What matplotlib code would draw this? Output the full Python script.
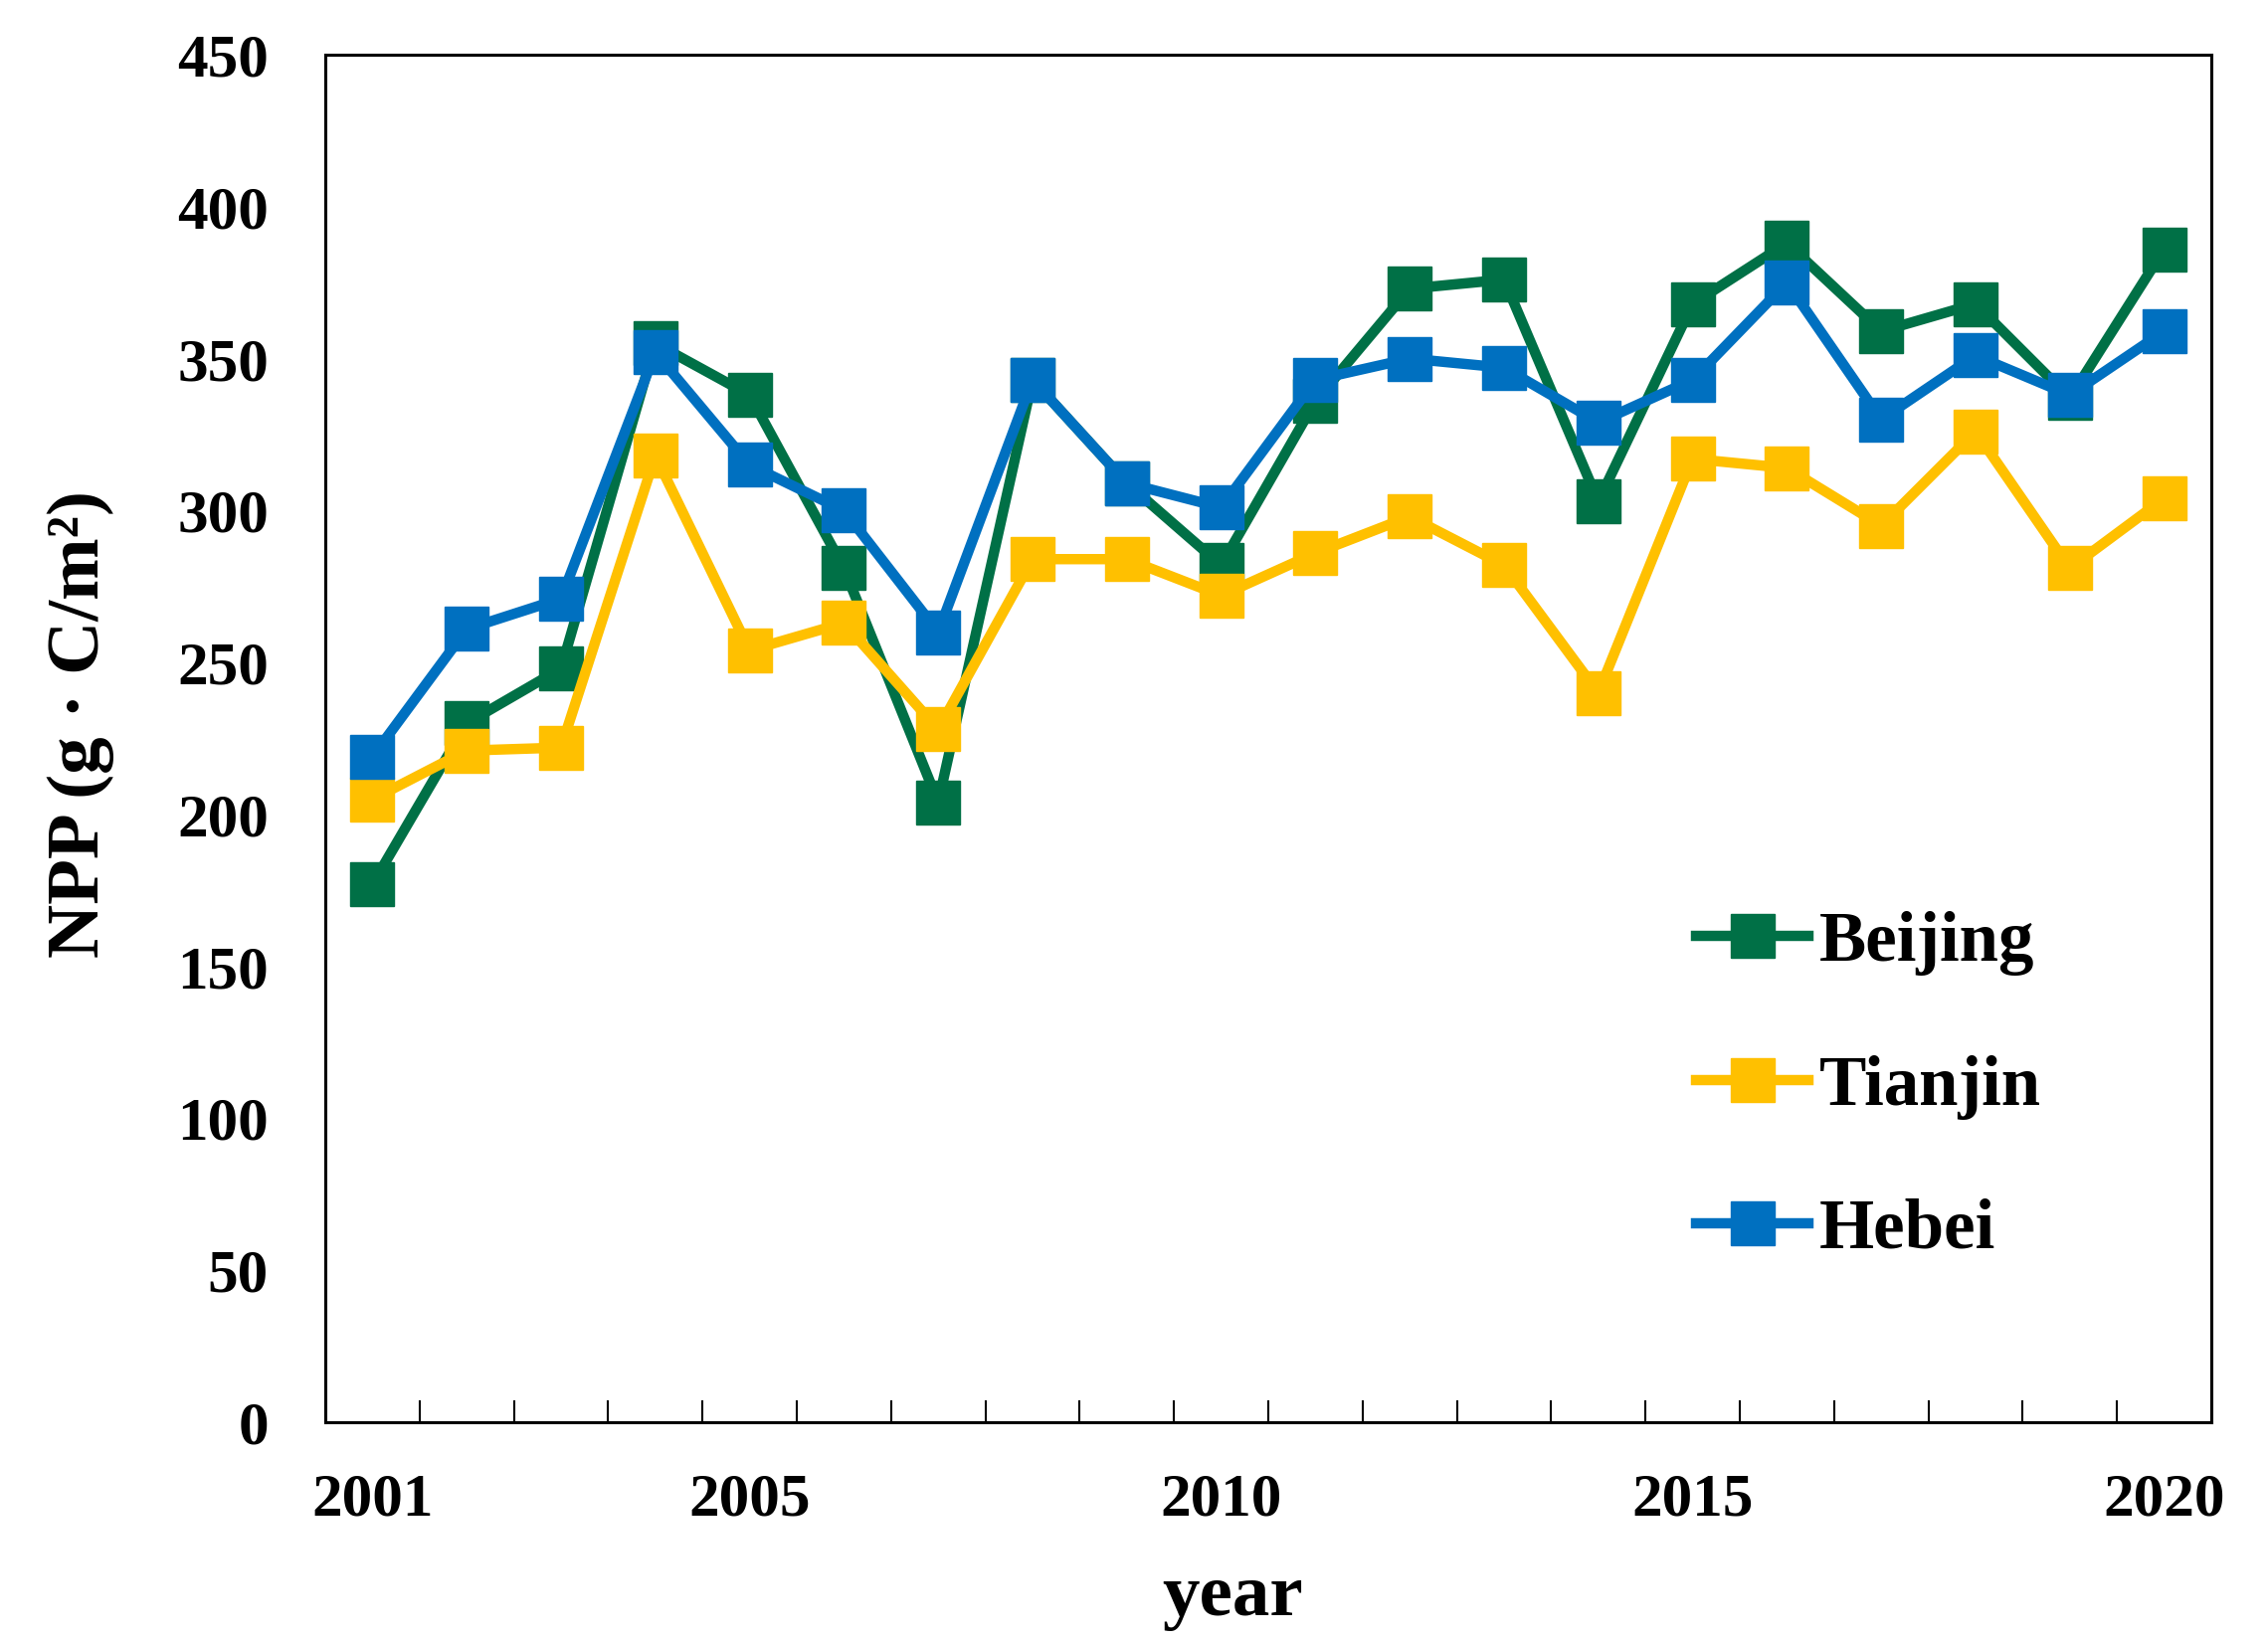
import matplotlib
matplotlib.use('Agg')
import matplotlib.pyplot as plt
import numpy as np

plt.rcParams['font.family'] = ['Liberation Serif', 'DejaVu Serif']
plt.rcParams['font.weight'] = 'bold'

years = list(range(2001, 2021))
beijing = [177, 230, 248, 355, 338, 281, 204, 343, 309, 282,
           336, 373, 376, 303, 368, 388, 359, 368, 337, 386]
tianjin = [205, 221, 222, 318, 254, 263, 228, 284, 284, 272,
           286, 298, 282, 240, 317, 314, 295, 326, 281, 304]
hebei = [219, 261, 271, 352, 315, 300, 260, 343, 309, 301,
         343, 350, 347, 329, 343, 375, 330, 351, 338, 359]
shown_years = [2001, 2005, 2010, 2015, 2020]

colors = {'Beijing': '#007046', 'Tianjin': '#FFC000', 'Hebei': '#0070C0'}

fig = plt.figure(figsize=(22.8, 16.51), dpi=100)
ax = fig.add_axes([327/2280, 1 - 1430/1651, 1896/2280, 1375/1651])

x = np.arange(len(years))
for name, vals in [('Beijing', beijing), ('Tianjin', tianjin), ('Hebei', hebei)]:
    ax.plot(x, vals, color=colors[name], lw=7.5, marker='s', markersize=31,
            label=name)

ax.set_xlim(-0.5, len(years) - 0.5)
ax.set_ylim(0, 450)
ax.set_yticks(np.arange(0, 451, 50))

ax.set_xticks([years.index(y) for y in shown_years])
ax.set_xticklabels([str(y) for y in shown_years])
ax.set_xticks(np.arange(-0.5, len(years), 1), minor=True)

ax.tick_params(axis='x', which='major', length=0, pad=36, labelsize=44)
ax.tick_params(axis='x', which='minor', direction='in', length=15.5, width=1.5)
ax.tick_params(axis='y', which='major', length=0, pad=41, labelsize=44)

for s in ax.spines.values():
    s.set_linewidth(2.2)

fig.text(81/2280, 1 - 728/1651, 'NPP (g · C/m²)', rotation=90,
         ha='center', va='center', fontsize=54, fontweight='bold')
fig.text(1239/2280, 1 - 1624/1651, 'year', ha='center', va='baseline',
         fontsize=54, fontweight='bold')

leg = ax.legend(loc='center left', bbox_to_anchor=(1705/2280, 1 - 1093/1651),
                bbox_transform=fig.transFigure, frameon=False, fontsize=51,
                handlelength=1.6, handletextpad=0.15, labelspacing=1.12,
                borderpad=0, borderaxespad=0)

fig.savefig('out.png', dpi=100)
